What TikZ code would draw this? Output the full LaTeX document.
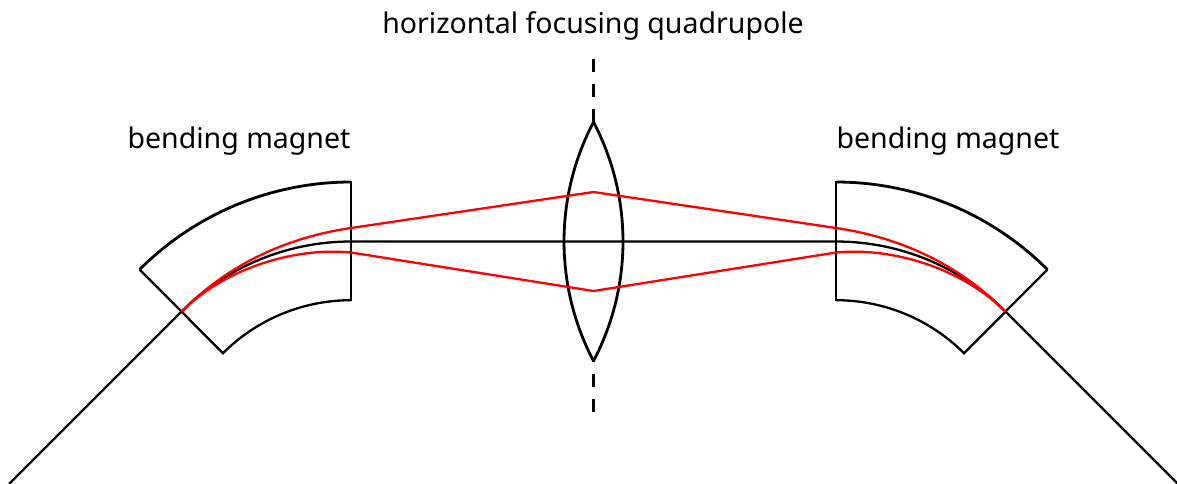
\documentclass[tikz,border=0pt]{standalone}
\usepackage{fontspec}
\setmainfont{Noto Sans}
\tikzset{
  lbl/.style={anchor=base, inner sep=0pt, font=\fontsize{28.5}{32}\selectfont, text=black},
  blk/.style={draw=black, line width=2.3pt, line join=miter},
  heavy/.style={draw=black, line width=2.8pt, line join=miter},
  ray/.style={draw=red, line width=2.3pt, line join=miter},
  axis/.style={draw=black, line width=2.3pt, dash pattern=on 13pt off 12pt}
}
\begin{document}
\begin{tikzpicture}[x=1pt,y=-1pt]
\useasboundingbox (0,0) rectangle (1177,483);
% labels
\node[lbl] (title) at (593,33) {horizontal focusing quadrupole};
\node[lbl] (left label) at (239,148) {bending magnet};
\node[lbl] (right label) at (948,148) {bending magnet};
% key points
\coordinate (tip top) at (593.5,122);
\coordinate (tip bot) at (593.5,361);
\coordinate (axis top) at (593.5,59);
\coordinate (axis bot) at (593.5,412);
\coordinate (L in) at (181.3,311.8);
\coordinate (R in) at (1005.7,311.8);
\coordinate (L far) at (9.3,483.8);
\coordinate (R far) at (1177.7,483.8);
\coordinate (L mid) at (351,241.5);
\coordinate (R mid) at (836,241.5);
% quadrupole lens
\draw[heavy] (820.8,241.5) ++(207.7:256.8) arc[start angle=207.7,end angle=152.3,radius=256.8];
\draw[heavy] (366.2,241.5) ++(-27.7:256.8) arc[start angle=-27.7,end angle=27.7,radius=256.8];
\draw[axis] (tip top) -- (axis top);
\draw[axis] (axis bot) -- (tip bot);
% left magnet
\draw[heavy] (351,182) arc[start angle=-90,end angle=-135,radius=299];
\draw[blk] (139.6,269.6) -- (223,353.2) arc[start angle=-135,end angle=-90,radius=181] ;
\draw[blk] (351,181) -- (351,301);
% right magnet
\draw[heavy] (836,182) arc[start angle=-90,end angle=-45,radius=299];
\draw[blk] (1047.4,269.6) -- (964,353.2) arc[start angle=-45,end angle=-90,radius=181];
\draw[blk] (836,181) -- (836,301);
% reference orbit
\draw[blk] (L far) -- (L in) arc[start angle=-135,end angle=-90,radius=240] -- (R mid) arc[start angle=-90,end angle=-45,radius=240] -- (R far);
% rays
\draw[ray] (L in) .. controls (226,266.5) and (283,238) .. (351,228) -- (593.5,192) -- (836,228) .. controls (904,238) and (961,266.5) .. (R in);
\draw[ray] (L in) .. controls (225,268) and (295,247) .. (351,252.5) -- (593.5,291) -- (836,252.5) .. controls (892,247) and (962,268) .. (R in);
\end{tikzpicture}
\end{document}
